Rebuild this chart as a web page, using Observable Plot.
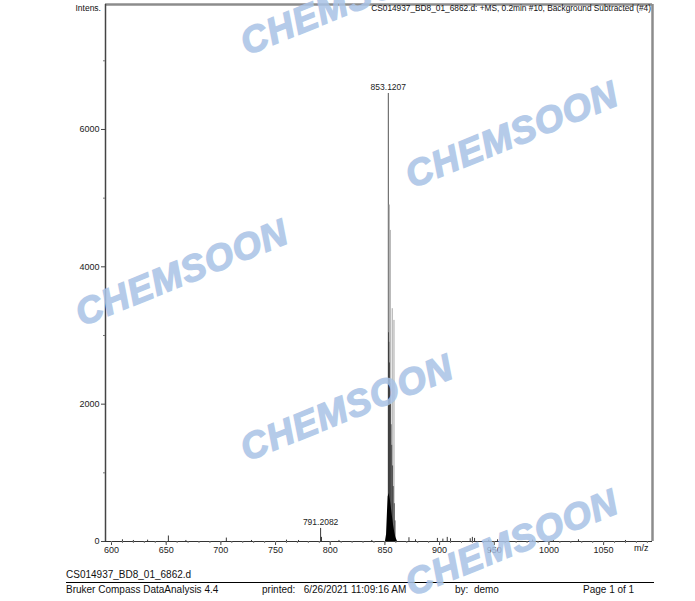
<!DOCTYPE html>
<html><head><meta charset="utf-8">
<script src="https://cdn.jsdelivr.net/npm/d3@7"></script>
<script src="https://cdn.jsdelivr.net/npm/@observablehq/plot@0.6"></script>
<style>
body{margin:0;background:#fff;font-family:"Liberation Sans",Arial,sans-serif;}
#wrap{position:relative;width:695px;height:601px;overflow:hidden;background:#fff;}
#wrap svg{position:absolute;left:0;top:0;}
.t{position:absolute;white-space:nowrap;color:#111;}
.wm{position:absolute;white-space:nowrap;font-family:"Liberation Sans",Arial,sans-serif;font-weight:bold;font-style:italic;font-size:37px;color:#a9c3e6;-webkit-text-stroke:1.4px #a9c3e6;opacity:0.85;transform:translate(-50%,-50%) rotate(-22deg);letter-spacing:1px;pointer-events:none;}
</style></head>
<body><div id="wrap"></div>
<script>
// ---- data ----
// main isotope cluster (light profile spikes)
const clusterMz  = [853.12, 854.0, 854.9, 856.7, 858.3];
const clusterInt = [6524, 4900, 4530, 3390, 3220];
// denser darker spikes within the cluster
const denseMz  = [853.3, 853.6, 854.2, 854.5, 855.2, 855.6, 856.2, 857.0, 857.6, 858.6, 859.3];
const denseInt = [3040, 2900, 2600, 2300, 2000, 1700, 1400, 1100, 800, 550, 300];
// filled base envelope
const envMz  = [850.5, 851.5, 852.4, 853, 853.8, 855, 856, 857, 858, 859, 860, 861.5];
const envInt = [0, 100, 450, 650, 700, 600, 480, 350, 230, 130, 60, 0];
const noiseMz  = [610, 620, 633, 652, 668, 705, 728, 760, 771, 791.2, 792, 808, 838, 872, 878, 898, 903, 907, 910, 928, 930, 932, 945, 953, 985, 1004, 1027, 1070];
const noiseInt = [25, 15, 20, 80, 15, 50, 15, 20, 15, 190, 60, 15, 15, 55, 25, 45, 35, 60, 40, 40, 60, 45, 20, 25, 20, 15, 25, 15];
const peakLabelMz  = [853.1207, 791.2082];
const peakLabelInt = [6524, 190];
const peakLabelText = ["853.1207", "791.2082"];
const yMajor = [0, 2000, 4000, 6000];
const yMinor = [1000, 3000, 5000, 7000];
const xMajor = [600, 650, 700, 750, 800, 850, 900, 950, 1000, 1050];
const xDomain = [594.5, 1094.7];
const yDomain = [0, 7820];
const title = "CS014937_BD8_01_6862.d: +MS, 0.2min #10, Background Subtracted (#4)";
const footer = {file:"CS014937_BD8_01_6862.d", app:"Bruker Compass DataAnalysis 4.4", printed:"printed:\u00a0\u00a0 6/26/2021 11:09:16 AM", by:"by:\u00a0\u00a0demo", page:"Page 1 of 1"};
const watermark = "CHEMSOON";

// ---- tables ----
const cluster = clusterMz.map((m,i)=>({mz:m, i:clusterInt[i]}));
const dense = denseMz.map((m,i)=>({mz:m, i:denseInt[i]}));
const env = envMz.map((m,i)=>({mz:m, i:envInt[i]}));
const noise = noiseMz.map((m,i)=>({mz:m, i:noiseInt[i]}));
const labels = peakLabelMz.map((m,i)=>({mz:m, i:peakLabelInt[i], t:peakLabelText[i]}));
const xMinor = d3.range(600, 1091, 10);

const chart = Plot.plot({
  width:695, height:560,
  marginLeft:105, marginRight:43, marginTop:4, marginBottom:19,
  x:{domain:xDomain}, y:{domain:yDomain},
  style:{fontFamily:"Liberation Sans, Arial, sans-serif", fontSize:"9px", color:"#222", background:"transparent"},
  marks:[
    Plot.ruleY([yDomain[1]], {stroke:"#8c8c8c", strokeWidth:2.5}),
    Plot.ruleX([xDomain[1]], {stroke:"#8c8c8c", strokeWidth:2.5}),
    Plot.ruleX(noise, {x:"mz", y:"i", stroke:"#222", strokeWidth:0.9}),
    Plot.ruleX(cluster, {x:"mz", y:"i", stroke:d=>d.i>6000?"#555":"#a5a5a5", strokeWidth:1}),
    Plot.ruleX(dense, {x:"mz", y:"i", stroke:"#3a3a3a", strokeWidth:0.8}),
    Plot.areaY(env, {x:"mz", y:"i", fill:"#000", curve:"linear"}),
    Plot.ruleY([0], {stroke:"#333", strokeWidth:1}),
    Plot.ruleX([xDomain[0]], {stroke:"#444", strokeWidth:1.5}),
    Plot.axisY({ticks:yMajor, tickSize:4, tickPadding:2, tickFormat:d3.format("d"), label:null, stroke:"#444"}),
    Plot.axisY({ticks:yMinor, tickSize:2, text:null, label:null, stroke:"#777"}),
    Plot.axisX({ticks:xMajor, tickSize:4, tickPadding:1, tickFormat:d3.format("d"), label:null, stroke:"#444"}),
    Plot.axisX({ticks:xMinor, tickSize:2, text:null, label:null, stroke:"#777"}),
    Plot.text(labels, {x:"mz", y:"i", text:"t", dy:-6, fontSize:8.5, fill:"#222"})
  ]
});
const wrap = document.getElementById("wrap");
wrap.appendChild(chart);

function addText(txt, css){const d=document.createElement("div");d.className="t";d.textContent=txt;Object.assign(d.style,css);wrap.appendChild(d);return d;}
addText("Intens.", {right:(695-101)+"px", top:"3px", fontSize:"8.5px"});
addText(title, {right:(695-651)+"px", top:"3px", fontSize:"8.3px"});
addText("m/z", {left:"634px", top:"543px", fontSize:"9px"});
addText(footer.file, {left:"66px", top:"569px", fontSize:"10px"});
const line=document.createElement("div");Object.assign(line.style,{position:"absolute",left:"66px",top:"582px",width:"588px",height:"1px",background:"#000"});wrap.appendChild(line);
addText(footer.app, {left:"66px", top:"584px", fontSize:"10px"});
addText(footer.printed, {left:"262px", top:"584px", fontSize:"10px"});
addText(footer.by, {left:"455px", top:"584px", fontSize:"10px"});
addText(footer.page, {left:"583px", top:"584px", fontSize:"10px"});

const wmCenters = [[347,2],[512,135],[182,273],[347,408],[512,543]];
wmCenters.forEach(([x,y])=>{const d=document.createElement("div");d.className="wm";d.textContent=watermark;d.style.left=x+"px";d.style.top=y+"px";wrap.appendChild(d);});
</script></body></html>
